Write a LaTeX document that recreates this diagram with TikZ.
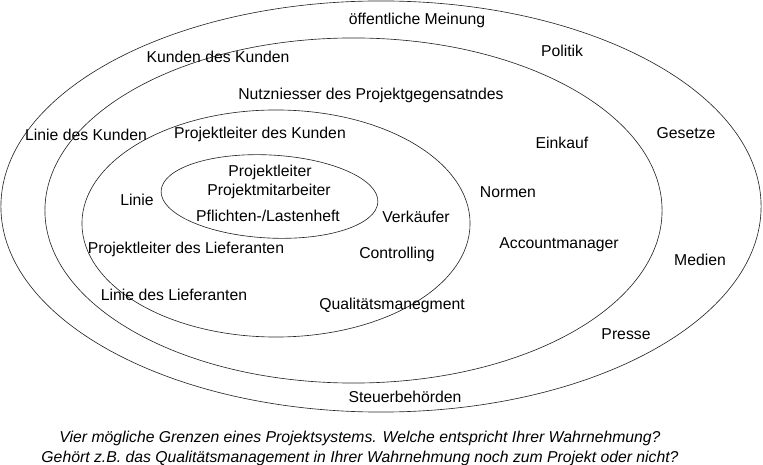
\documentclass[tikz,border=0pt]{standalone}
\usepackage{fontspec}
\setmainfont{Liberation Sans}
\usepackage{tikz}
\usetikzlibrary{
  shapes.geometric
}
\tikzset{
  ring/.style={
    draw=black!85,
    ellipse,
    inner sep=0pt,
    line width=0.45pt},
  lbl/.style={
    inner sep=0pt,
    font=\fontsize{11.2}{13.5}\selectfont}
  }

\begin{document}
\begin{tikzpicture}[x=0.025cm,y=-0.025cm]
      \useasboundingbox (0,0) rectangle (763,465);
      \node[ring,minimum width=19cm,minimum height=10.275cm] (umfeld) at (381,206.5) {};
      \node[ring,minimum width=15.425cm,minimum height=8.625cm] (kunde) at (353.5,210.5) {};
      \node[ring,minimum width=9.7cm,minimum height=5.675cm] (linie) at (276,223.5) {};
      \node[ring,minimum width=5.425cm,minimum height=2.075cm,rotate=-3] (kern) at (269.5,196.5) {};
      \node[lbl] (meinung) at (417,20) {öffentliche Meinung};
      \node[lbl] (politik) at (562,51) {Politik};
      \node[lbl] (kdk) at (218,57) {Kunden des Kunden};
      \node[lbl] (nutzen) at (371,95) {Nutzniesser des Projektgegensatndes};
      \node[lbl] (liniek) at (86,135) {Linie des Kunden};
      \node[lbl] (plk) at (260,134) {Projektleiter des Kunden};
      \node[lbl] (einkauf) at (562,143) {Einkauf};
      \node[lbl] (gesetze) at (686,133) {Gesetze};
      \node[lbl] (normen) at (508,192) {Normen};
      \node[lbl] (verkauf) at (416,217) {Verkäufer};
      \node[lbl] (lin) at (137,200) {Linie};
      \node[lbl] (pl) at (270,172) {Projektleiter};
      \node[lbl] (pma) at (269,191) {Projektmitarbeiter};
      \node[lbl] (heft) at (268,216) {Pflichten-/Lastenheft};
      \node[lbl] (pll) at (186,249) {Projektleiter des Lieferanten};
      \node[lbl] (contr) at (397,254) {Controlling};
      \node[lbl] (accm) at (559,245) {Accountmanager};
      \node[lbl] (medien) at (700,260) {Medien};
      \node[lbl] (linl) at (174,295) {Linie des Lieferanten};
      \node[lbl] (qm) at (392,305) {Qualitätsmanegment};
      \node[lbl] (presse) at (626,334) {Presse};
      \node[lbl] (steuer) at (405,397) {Steuerbehörden};
      \node[lbl,align=center,font=\fontsize{11.2}{14.2}\selectfont\itshape] (caption) at (360,448)
        {Vier mögliche Grenzen eines Projektsystems. Welche entspricht Ihrer Wahrnehmung?\\
         Gehört z.B. das Qualitätsmanagement in Ihrer Wahrnehmung noch zum Projekt oder nicht?};
    \end{tikzpicture}
\end{document}
